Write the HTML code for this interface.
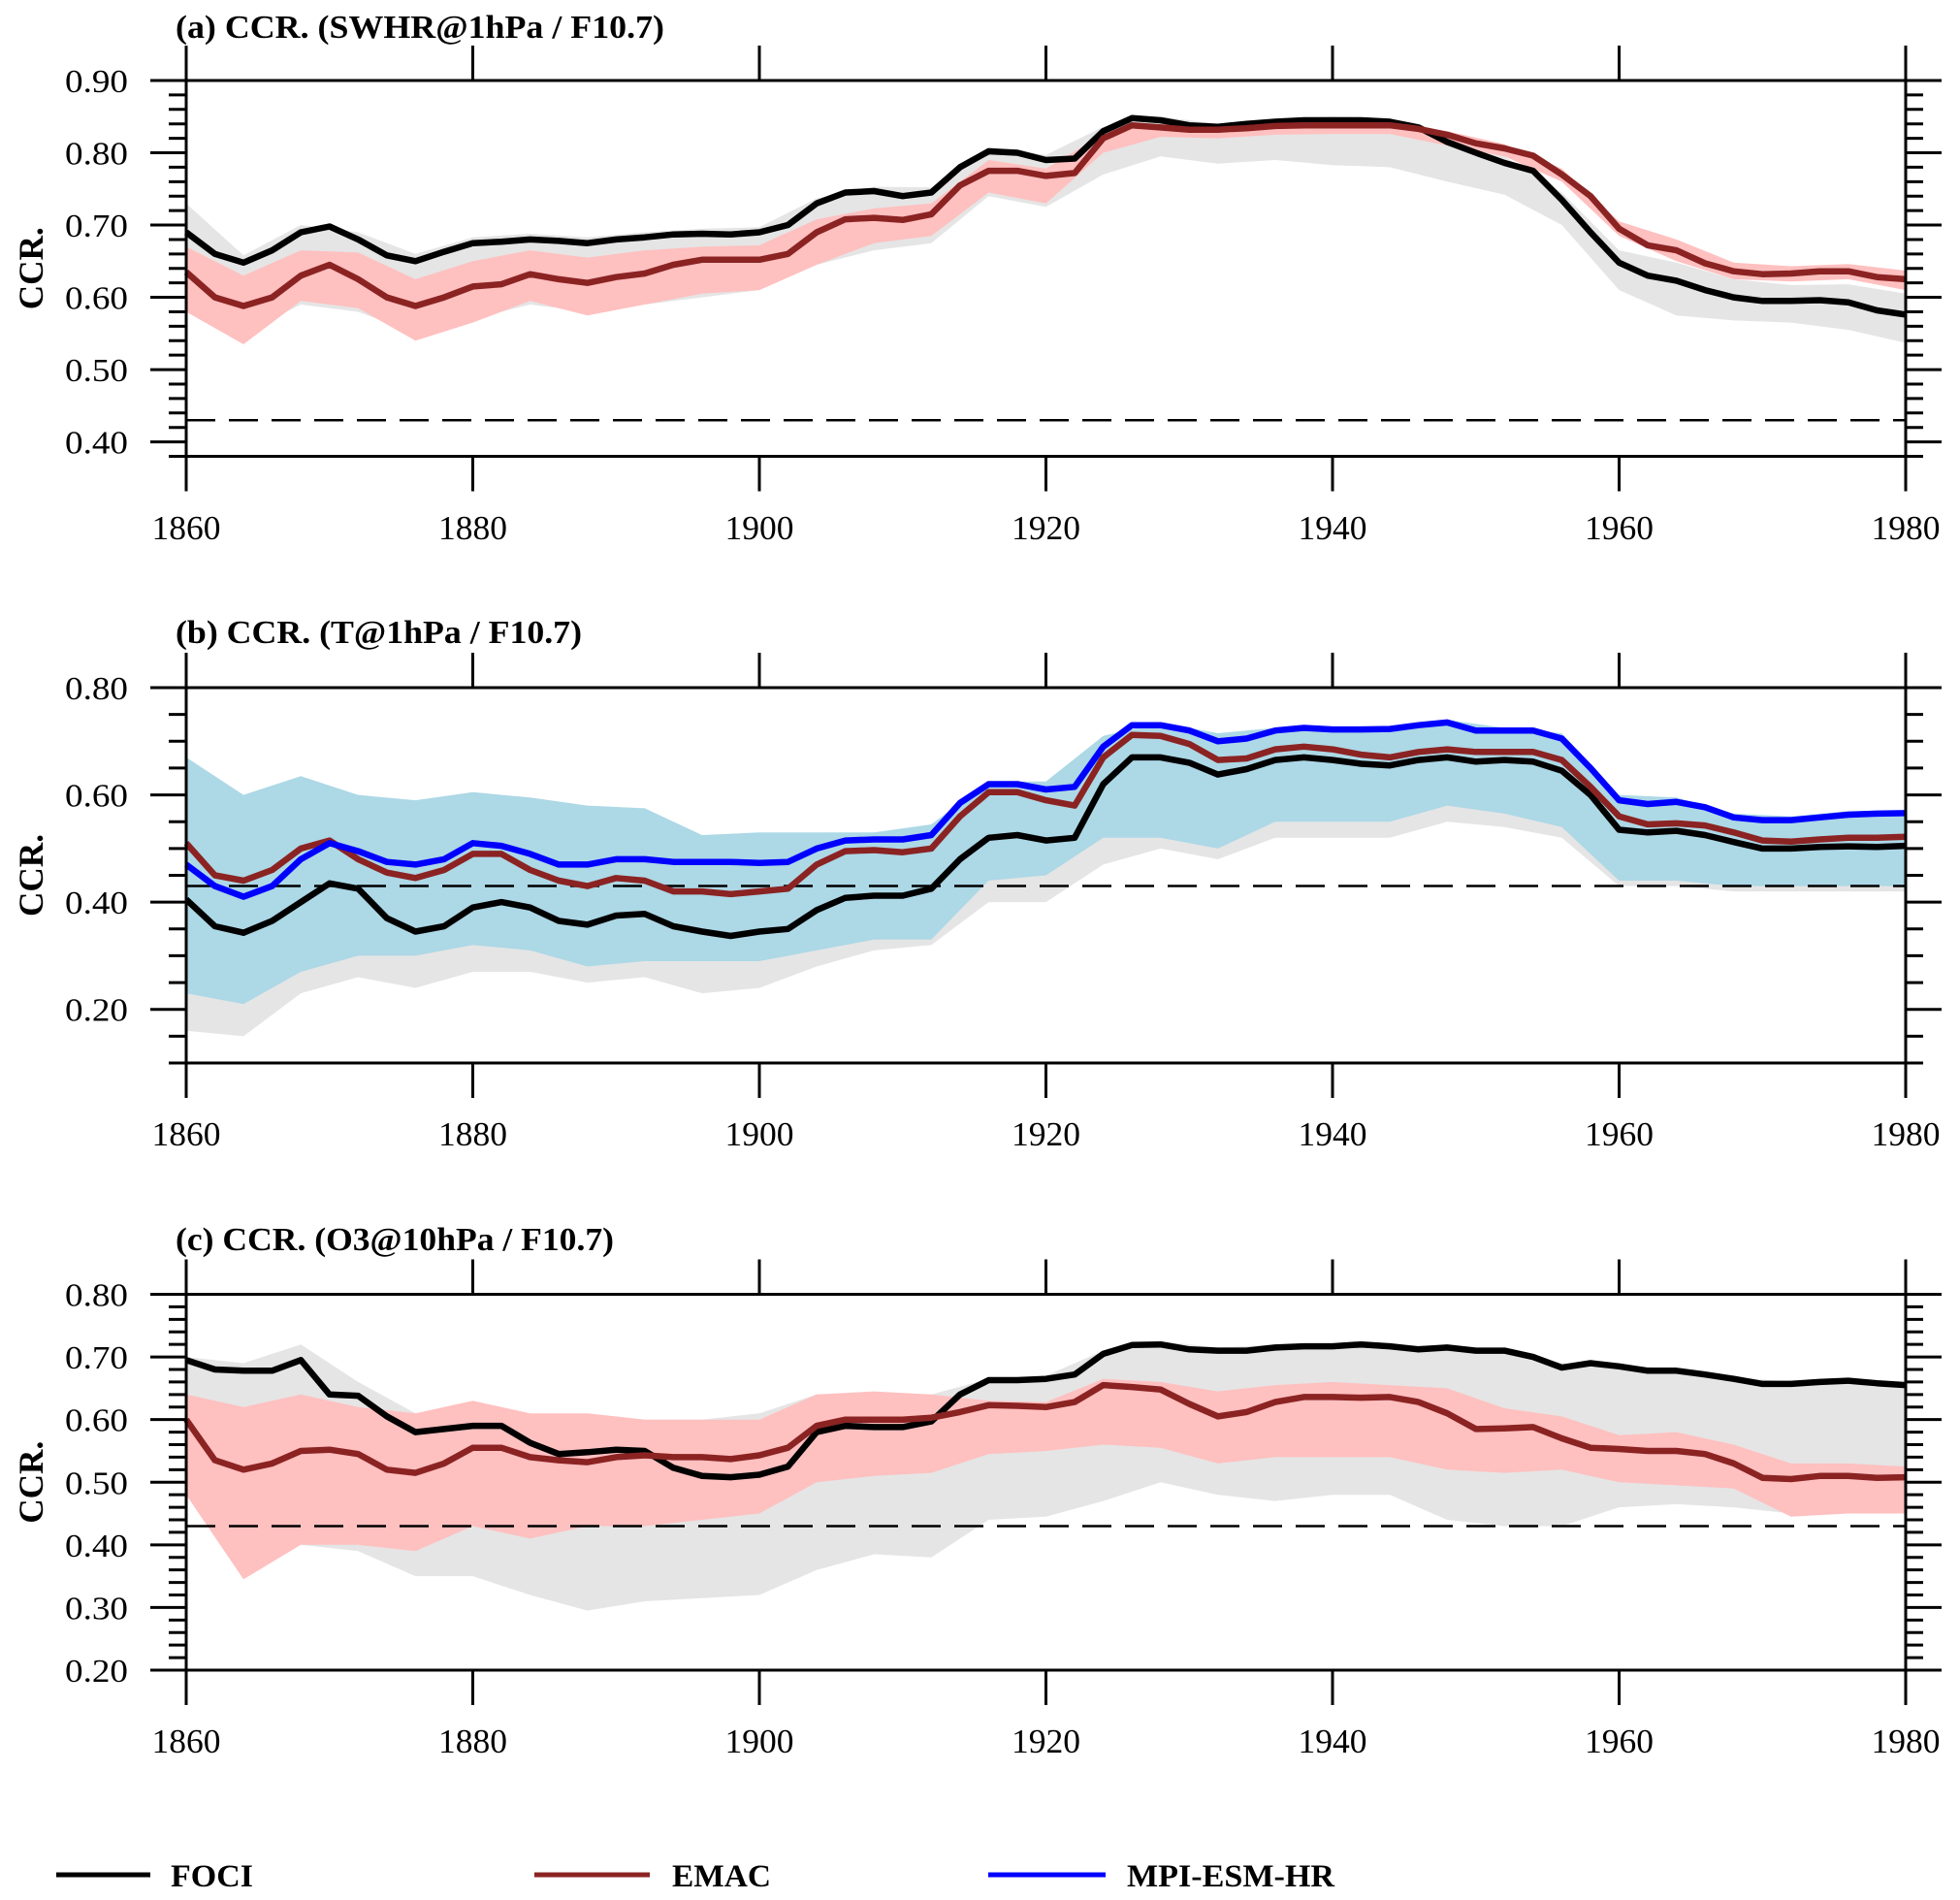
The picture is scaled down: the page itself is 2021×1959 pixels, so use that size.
<!DOCTYPE html>
<html><head><meta charset="utf-8"><title>CCR panels</title>
<style>
html,body{margin:0;padding:0;background:#fff;}
svg{display:block;}
text{font-family:"Liberation Serif",serif;fill:#000;}
</style></head>
<body>
<svg id="fig" width="2021" height="1959" viewBox="0 0 2021 1959" xmlns="http://www.w3.org/2000/svg"></svg>
<script>
// ---------- data ----------
const lineYears = [];
for (let y = 1860; y <= 1980; y += 2) lineYears.push(y);
const bandYears = [];
for (let y = 1860; y <= 1980; y += 4) bandYears.push(y);

// Panel (a) SWHR@1hPa
const aFoci = [.690,.660,.648,.665,.690,.698,.680,.658,.650,.663,.675,.677,.680,.678,.675,.680,.683,.687,.688,.687,.690,.700,.730,.745,.747,.740,.745,.780,.802,.800,.790,.792,.830,.848,.845,.838,.836,.840,.843,.845,.845,.845,.843,.835,.815,.800,.786,.775,.735,.690,.648,.630,.623,.610,.600,.595,.595,.596,.593,.582,.576];
const aEmac = [.635,.600,.588,.600,.630,.645,.625,.600,.588,.600,.615,.618,.632,.625,.620,.628,.633,.645,.652,.652,.652,.660,.690,.708,.710,.707,.715,.755,.775,.775,.768,.772,.820,.838,.835,.832,.832,.834,.837,.838,.838,.838,.838,.833,.825,.813,.806,.796,.770,.740,.695,.672,.665,.647,.636,.632,.633,.636,.636,.628,.625];
const aFociHi = [.730,.658,.700,.690,.660,.683,.688,.683,.690,.695,.697,.737,.753,.752,.808,.797,.836,.850,.840,.847,.850,.848,.822,.795,.745,.665,.648,.625,.617,.618,.605];
const aFociLo = [.580,.550,.590,.580,.550,.570,.590,.580,.590,.600,.610,.645,.665,.675,.740,.725,.770,.795,.785,.790,.783,.780,.760,.742,.700,.610,.575,.568,.565,.555,.537];
const aEmacHi = [.670,.630,.665,.662,.625,.650,.665,.655,.665,.670,.672,.708,.723,.730,.790,.778,.826,.840,.836,.840,.842,.842,.830,.812,.778,.705,.680,.648,.643,.646,.637];
const aEmacLo = [.580,.535,.595,.585,.540,.565,.595,.575,.590,.605,.610,.645,.675,.685,.745,.730,.800,.822,.820,.825,.826,.826,.810,.795,.760,.685,.650,.625,.622,.625,.610];

// Panel (b) T@1hPa
const bFoci = [.405,.355,.343,.365,.400,.435,.425,.370,.345,.355,.390,.400,.390,.365,.358,.375,.378,.355,.345,.337,.345,.350,.385,.408,.412,.412,.425,.480,.520,.525,.515,.520,.620,.670,.670,.660,.638,.648,.665,.670,.665,.658,.655,.665,.670,.662,.665,.662,.645,.600,.535,.530,.533,.525,.512,.500,.500,.503,.504,.503,.505];
const bEmac = [.510,.450,.440,.460,.500,.515,.480,.455,.445,.460,.490,.490,.460,.440,.430,.445,.440,.420,.420,.415,.420,.425,.470,.495,.497,.493,.500,.560,.605,.605,.590,.580,.670,.712,.710,.695,.665,.668,.685,.690,.685,.675,.670,.680,.685,.680,.680,.680,.665,.615,.560,.545,.547,.543,.530,.515,.513,.517,.520,.520,.522];
const bMpi = [.470,.430,.410,.430,.480,.510,.495,.475,.470,.480,.510,.505,.490,.470,.470,.480,.480,.475,.475,.475,.473,.475,.500,.515,.517,.517,.525,.585,.620,.620,.610,.615,.690,.730,.730,.720,.700,.705,.720,.725,.722,.722,.723,.730,.735,.720,.720,.720,.705,.650,.590,.583,.587,.577,.558,.553,.553,.558,.563,.565,.566];
const bMpiHi = [.670,.600,.635,.600,.590,.605,.595,.580,.575,.525,.530,.530,.530,.545,.625,.625,.710,.735,.715,.725,.725,.725,.740,.725,.715,.600,.595,.565,.560,.570,.570];
const bMpiLo = [.230,.210,.270,.300,.300,.320,.310,.280,.290,.290,.290,.310,.330,.330,.440,.450,.520,.520,.500,.550,.550,.550,.580,.565,.540,.440,.440,.430,.430,.430,.430];
const bFociHi = [.450,.400,.460,.470,.400,.440,.440,.410,.430,.400,.400,.440,.460,.470,.570,.560,.680,.720,.690,.710,.710,.700,.720,.710,.690,.580,.580,.560,.550,.550,.550];
const bFociLo = [.160,.150,.230,.260,.240,.270,.270,.250,.260,.230,.240,.280,.310,.320,.400,.400,.470,.500,.480,.520,.520,.520,.550,.540,.520,.430,.430,.420,.420,.420,.420];

// Panel (c) O3@10hPa
const cFoci = [.695,.680,.678,.678,.695,.640,.638,.605,.580,.585,.590,.590,.563,.545,.548,.552,.550,.523,.510,.508,.512,.525,.580,.590,.588,.588,.597,.640,.663,.663,.665,.672,.705,.719,.720,.712,.710,.710,.715,.717,.717,.720,.717,.712,.715,.710,.710,.700,.683,.690,.685,.678,.678,.672,.665,.657,.657,.660,.662,.658,.655];
const cEmac = [.600,.535,.520,.530,.550,.552,.545,.520,.515,.530,.555,.555,.540,.535,.532,.540,.543,.540,.540,.537,.543,.555,.590,.600,.600,.600,.603,.612,.623,.622,.620,.628,.655,.652,.648,.625,.605,.612,.628,.636,.636,.635,.636,.628,.610,.585,.586,.588,.570,.555,.553,.550,.550,.545,.530,.507,.505,.510,.510,.507,.508];
const cFociHi = [.700,.690,.720,.660,.610,.610,.600,.600,.600,.600,.610,.640,.640,.640,.665,.670,.710,.725,.715,.720,.720,.720,.717,.712,.690,.688,.680,.668,.660,.665,.658];
const cFociLo = [.620,.450,.400,.390,.350,.350,.320,.295,.310,.315,.320,.360,.385,.380,.440,.445,.470,.500,.480,.470,.480,.480,.440,.430,.430,.460,.465,.460,.450,.450,.450];
const cEmacHi = [.640,.620,.640,.620,.610,.630,.610,.610,.600,.600,.600,.640,.645,.640,.630,.628,.665,.660,.645,.655,.660,.655,.650,.618,.605,.575,.580,.560,.530,.530,.525];
const cEmacLo = [.480,.345,.400,.400,.390,.430,.410,.430,.430,.440,.450,.500,.510,.515,.545,.550,.560,.555,.530,.540,.540,.540,.520,.515,.520,.500,.495,.490,.445,.450,.450];

const xTicks = [1860,1880,1900,1920,1940,1960,1980];
const aYTicks = ["0.90","0.80","0.70","0.60","0.50","0.40"];
const bYTicks = ["0.80","0.60","0.40","0.20"];
const cYTicks = ["0.80","0.70","0.60","0.50","0.40","0.30","0.20"];
const threshold = 0.43;

// ---------- drawing ----------
const NS = "http://www.w3.org/2000/svg";
const svg = document.getElementById("fig");
const X0 = 192, X1 = 1965;
function xs(yr){ return X0 + (yr - 1860) / 120 * (X1 - X0); }
function mk(tag, attrs, parent){
  const e = document.createElementNS(NS, tag);
  for (const k in attrs) e.setAttribute(k, attrs[k]);
  (parent || svg).appendChild(e);
  return e;
}

function drawPanel(p){
  const g = mk("g", {});
  
  
  const ys = v => p.yTop + (p.vMax - v) / (p.vMax - p.vMin) * (p.yBot - p.yTop);

  p.bands.forEach(b => {
    let d = "";
    bandYears.forEach((yr,i) => { d += (i ? "L" : "M") + xs(yr).toFixed(1) + "," + ys(b.hi[i]).toFixed(1); });
    for (let i = bandYears.length - 1; i >= 0; i--) d += "L" + xs(bandYears[i]).toFixed(1) + "," + ys(b.lo[i]).toFixed(1);
    const e = mk("path", {d: d + "Z", fill: b.color, stroke: "none"}, g);
    
    
  });

  const dl = mk("line", {x1: X0, x2: X1, y1: ys(threshold), y2: ys(threshold), stroke: "#000", "stroke-width": 2.5, "stroke-dasharray": "30 14"}, g);
  
  

  p.lines.forEach(l => {
    const pts = lineYears.map((yr,i) => xs(yr).toFixed(1) + "," + ys(l.v[i]).toFixed(1)).join(" ");
    const e = mk("polyline", {points: pts, fill: "none", stroke: l.color, "stroke-width": 6.5, "stroke-linejoin": "round"}, g);
    
    
  });

  const fr = mk("rect", {x: X0, y: p.yTop, width: X1 - X0, height: p.yBot - p.yTop, fill: "none", stroke: "#000", "stroke-width": 3}, g);
  
  

  const nMin = Math.round((p.vMax - p.vMin) / p.minor);
  for (let i = 0; i <= nMin; i++){
    const v = p.vMax - i * p.minor;
    const y = ys(v);
    const isMajor = p.ticks.some(t => Math.abs(parseFloat(t) - v) < 1e-6);
    const len = isMajor ? 37 : 18;
    mk("line", {x1: X0 - len, x2: X0, y1: y, y2: y, stroke: "#000", "stroke-width": 3}, g);
    mk("line", {x1: X1, x2: X1 + len, y1: y, y2: y, stroke: "#000", "stroke-width": 3}, g);
  }
  p.ticks.forEach(t => {
    const tx = mk("text", {x: 132, y: ys(parseFloat(t)) + 12, "text-anchor": "end", "font-size": 34, textLength: 65, lengthAdjust: "spacingAndGlyphs"}, g);
    tx.textContent = t;
    
    
  });

  xTicks.forEach(yr => {
    const x = xs(yr);
    mk("line", {x1: x, x2: x, y1: p.yTop - 36, y2: p.yTop, stroke: "#000", "stroke-width": 3}, g);
    mk("line", {x1: x, x2: x, y1: p.yBot, y2: p.yBot + 36, stroke: "#000", "stroke-width": 3}, g);
    const tx = mk("text", {x: x, y: p.xLabelY + 12, "text-anchor": "middle", "font-size": 35, textLength: 71, lengthAdjust: "spacingAndGlyphs"}, g);
    tx.textContent = yr;
    
    
  });

  const tt = mk("text", {x: 181, y: p.titleY + 12, "font-size": 34, "font-weight": "bold", textLength: p.titleW, lengthAdjust: "spacingAndGlyphs"}, g);
  tt.textContent = p.title;
  
  

  const cy = (p.yTop + p.yBot) / 2;
  const yt = mk("text", {x: 0, y: 0, "font-size": 36, "font-weight": "bold", "text-anchor": "middle", textLength: 85, lengthAdjust: "spacingAndGlyphs", transform: "translate(44," + cy + ") rotate(-90)"}, g);
  yt.textContent = "CCR.";
  
  
}

const PINK = "#FFC0C0", GRAY = "#E5E5E5", BLUE_BAND = "#ADD8E6";
const C_FOCI = "#000000", C_EMAC = "#8B2323", C_MPI = "#0000FF";

drawPanel({name: "panel-a", title: "(a) CCR. (SWHR@1hPa / F10.7)", titleY: 27, titleW: 504,
  yTop: 83, yBot: 470.5, vMax: 0.90, vMin: 0.38, minor: 0.02, ticks: aYTicks, xLabelY: 544,
  bands: [{name:"foci-spread-band", hi:aFociHi, lo:aFociLo, color:GRAY},{name:"emac-spread-band", hi:aEmacHi, lo:aEmacLo, color:PINK}],
  lines: [{name:"foci-line", v:aFoci, color:C_FOCI},{name:"emac-line", v:aEmac, color:C_EMAC}]});

drawPanel({name: "panel-b", title: "(b) CCR. (T@1hPa / F10.7)", titleY: 651, titleW: 419,
  yTop: 709, yBot: 1096, vMax: 0.80, vMin: 0.10, minor: 0.05, ticks: bYTicks, xLabelY: 1169,
  bands: [{name:"foci-spread-band", hi:bFociHi, lo:bFociLo, color:GRAY},{name:"mpi-spread-band", hi:bMpiHi, lo:bMpiLo, color:BLUE_BAND}],
  lines: [{name:"foci-line", v:bFoci, color:C_FOCI},{name:"emac-line", v:bEmac, color:C_EMAC},{name:"mpi-esm-hr-line", v:bMpi, color:C_MPI}]});

drawPanel({name: "panel-c", title: "(c) CCR. (O3@10hPa / F10.7)", titleY: 1277, titleW: 452,
  yTop: 1334.5, yBot: 1722, vMax: 0.80, vMin: 0.20, minor: 0.02, ticks: cYTicks, xLabelY: 1795,
  bands: [{name:"foci-spread-band", hi:cFociHi, lo:cFociLo, color:GRAY},{name:"emac-spread-band", hi:cEmacHi, lo:cEmacLo, color:PINK}],
  lines: [{name:"foci-line", v:cFoci, color:C_FOCI},{name:"emac-line", v:cEmac, color:C_EMAC}]});

const legend = mk("g", {});


const legendNames = ["FOCI","EMAC","MPI-ESM-HR"];
const legendColors = [C_FOCI, C_EMAC, C_MPI];
const legendLineX = [[58,155],[551,670],[1019,1140]];
const legendTextX = [176, 693, 1162];
const legendTextW = [85, 102, 214];
legendNames.forEach((n,i) => {
  const ln = mk("line", {x1: legendLineX[i][0], x2: legendLineX[i][1], y1: 1933, y2: 1933, stroke: legendColors[i], "stroke-width": 5}, legend);
  
  
  const t = mk("text", {x: legendTextX[i], y: 1945, "font-size": 33, "font-weight": "bold", textLength: legendTextW[i], lengthAdjust: "spacingAndGlyphs"}, legend);
  t.textContent = n;
  
  
});
</script>
</body></html>
